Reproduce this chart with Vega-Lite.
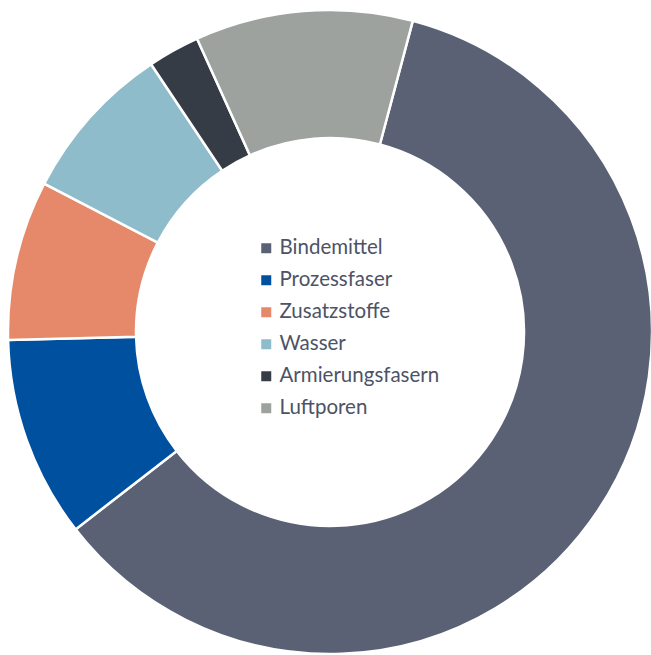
{
  "$schema": "https://vega.github.io/schema/vega-lite/v6.json",
  "width": 660,
  "height": 664,
  "padding": 0,
  "autosize": {"type": "none"},
  "background": "white",
  "config": {"view": {"stroke": null}},
  "data": {
    "values": [
      {"Komponente": "Bindemittel", "Anteil": 60.3, "Reihenfolge": 1},
      {"Komponente": "Prozessfaser", "Anteil": 10.1, "Reihenfolge": 2},
      {"Komponente": "Zusatzstoffe", "Anteil": 8.0, "Reihenfolge": 3},
      {"Komponente": "Wasser", "Anteil": 8.0, "Reihenfolge": 4},
      {"Komponente": "Armierungsfasern", "Anteil": 2.6, "Reihenfolge": 5},
      {"Komponente": "Luftporen", "Anteil": 10.9, "Reihenfolge": 6}
    ]
  },
  "mark": {"type": "arc", "outerRadius": 322, "innerRadius": 194, "stroke": "white", "strokeWidth": 2.5},
  "encoding": {
    "theta": {"field": "Anteil", "type": "quantitative", "stack": true, "scale": {"range": [0.26, 6.5432]}},
    "order": {"field": "Reihenfolge", "type": "quantitative"},
    "color": {
      "field": "Komponente",
      "type": "nominal",
      "sort": ["Bindemittel", "Prozessfaser", "Zusatzstoffe", "Wasser", "Armierungsfasern", "Luftporen"],
      "scale": {
        "domain": ["Bindemittel", "Prozessfaser", "Zusatzstoffe", "Wasser", "Armierungsfasern", "Luftporen"],
        "range": ["#5a6175", "#0050a0", "#e5896a", "#8fbccb", "#363c46", "#9da29e"]
      },
      "legend": {
        "title": null,
        "orient": "none",
        "legendX": 256,
        "legendY": 238,
        "symbolType": "square",
        "symbolSize": 100,
        "symbolStrokeWidth": 0,
        "labelFont": "Lato",
        "labelFontSize": 20.5,
        "labelColor": "#4d5366",
        "labelOffset": 3,
        "rowPadding": 11
      }
    }
  }
}
